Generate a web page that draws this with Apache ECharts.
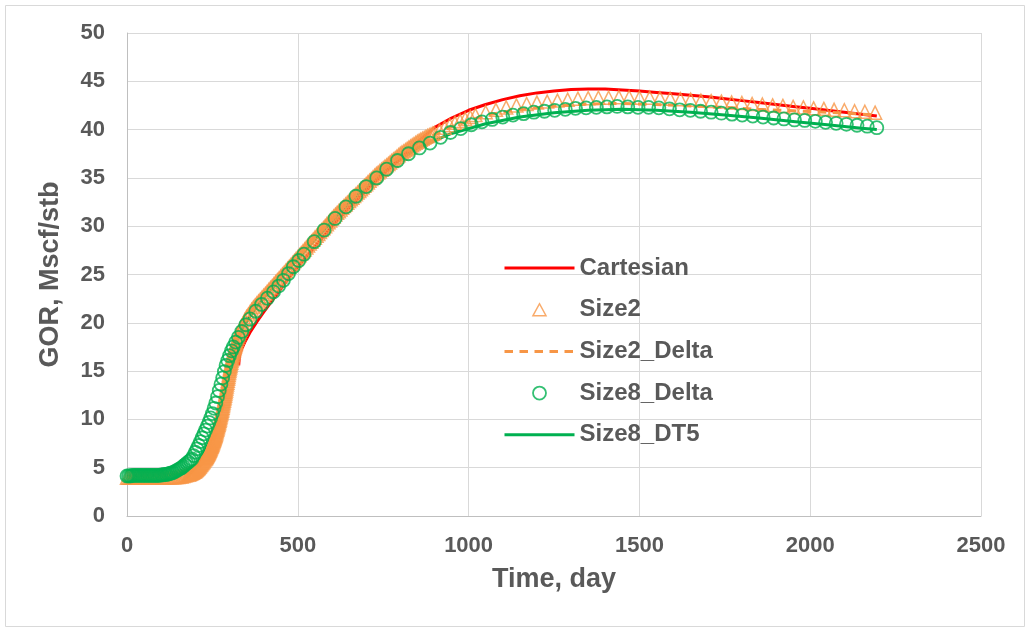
<!DOCTYPE html>
<html>
<head>
<meta charset="utf-8">
<script src="https://cdn.jsdelivr.net/npm/echarts@6/dist/echarts.min.js"></script>
<style>html,body{margin:0;padding:0;background:#fff;}#c{width:1031px;height:629px;}</style>
</head>
<body>
<div id="c"></div>
<script>
// ---- Data: [time (day), GOR (Mscf/stb)] ----
const xTicks = [0, 500, 1000, 1500, 2000, 2500];
const yTicks = [0, 5, 10, 15, 20, 25, 30, 35, 40, 45, 50];

const cartesianPoints = [[327,15.6],[329,16.5],[332,17.0],[337,17.4],[345,18.0],[360,19.0],[380,20.1],[400,21.1],[425,22.3],[450,23.5],[475,24.7],[500,25.8],[550,27.9],[600,30.0],[650,31.9],[700,33.7],[750,35.4],[800,37.0],[850,38.7],[900,40.2],[950,41.2],[1000,42.0],[1050,42.6],[1100,43.1],[1150,43.5],[1200,43.8],[1250,44.0],[1300,44.15],[1350,44.2],[1400,44.2],[1450,44.1],[1500,44.0],[1550,43.85],[1600,43.7],[1650,43.55],[1700,43.4],[1750,43.2],[1800,43.0],[1850,42.8],[1900,42.6],[1950,42.4],[2000,42.2],[2050,42.0],[2100,41.8],[2150,41.6],[2195,41.4]];

const size2Points = [
[0,3.95],[5,3.95],[10,3.95],[15,3.95],[20,3.95],[25,3.95],[30,4.0],[35,4.0],[40,4.0],[45,4.0],[50,4.0],[55,4.0],[60,4.0],[65,4.0],[70,4.0],[75,4.0],[80,4.0],[85,4.0],[90,4.0],[95,4.0],[100,4.0],[105,4.0],[110,4.0],[115,4.0],[120,4.0],[125,4.0],[130,4.0],[135,4.0],[140,4.0],[145,4.05],[150,4.05],[155,4.1],[160,4.1],[165,4.15],[170,4.2],[175,4.25],[180,4.3],
[182,4.33],[184,4.36],[186,4.39],[188,4.42],[190,4.45],[192,4.49],[194,4.53],[196,4.57],[198,4.61],[200,4.65],[202,4.72],[204,4.79],[206,4.86],[208,4.93],[210,5.0],[212,5.09],[214,5.18],[216,5.27],[218,5.36],[220,5.45],[222,5.55],[224,5.65],[226,5.75],[228,5.85],
[230,5.95],[231,6.01],[232,6.08],[233,6.14],[234,6.21],[235,6.27],[236,6.34],[237,6.40],[238,6.47],[239,6.53],[240,6.60],[241,6.68],[242,6.76],[243,6.84],[244,6.92],[245,7.00],[246,7.08],[247,7.16],[248,7.24],[249,7.32],[250,7.40],[251,7.50],[252,7.60],[253,7.70],[254,7.80],[255,7.90],[256,8.00],[257,8.10],[258,8.20],[259,8.30],[260,8.40],[261,8.53],[262,8.66],[263,8.79],[264,8.92],[265,9.05],[266,9.18],[267,9.31],[268,9.44],[269,9.57],[270,9.70],[271,9.85],[272,10.00],[273,10.15],[274,10.30],[275,10.45],[276,10.60],[277,10.75],[278,10.90],[279,11.05],[280,11.20],[281,11.38],[282,11.56],[283,11.74],[284,11.92],[285,12.10],[286,12.28],[287,12.46],[288,12.64],[289,12.82],[290,13.00],[291,13.20],[292,13.40],[293,13.60],[294,13.80],[295,14.00],[296,14.20],[297,14.40],[298,14.60],[299,14.80],[300,15.00],[301,15.18],[302,15.36],[303,15.53],[304,15.70],[305,15.87],[306,16.04],[307,16.21],[308,16.38],[309,16.54],[310,16.70],[311,16.84],[312,16.98],[313,17.12],[314,17.25],[315,17.38],[316,17.51],[317,17.64],[318,17.76],[319,17.88],[320,18.00],
[322,18.23],[324,18.46],[326,18.68],[328,18.89],[330,19.1],[332,19.28],[334,19.45],[336,19.61],[338,19.76],[340,19.9],
[345,20.3],[350,20.6],[355,20.85],[360,21.1],[365,21.35],[370,21.6],[375,21.8],[380,22.0],[385,22.2],[390,22.4],[395,22.6],[400,22.8],[405,23.0],[410,23.2],[415,23.4],[420,23.6],[425,23.8],[430,24.0],[435,24.2],[440,24.4],[445,24.6],[450,24.8],[455,25.0],[460,25.2],[465,25.4],[470,25.6],[475,25.8],[480,26.0],[485,26.2],[490,26.4],[495,26.6],[500,26.8],[505,27.0],[510,27.2],[515,27.4],[520,27.6],[525,27.8],[530,28.0],[535,28.2],[540,28.4],[545,28.6],[550,28.8],[555,29.0],[560,29.2],[565,29.4],[570,29.6],[575,29.8],[580,30.0],[585,30.2],[590,30.4],[595,30.6],[600,30.8],
[605,31.0],[610,31.2],[615,31.38],[620,31.55],[625,31.73],[630,31.9],[635,32.08],[640,32.25],[645,32.43],[650,32.6],[655,32.78],[660,32.95],[665,33.13],[670,33.3],[675,33.48],[680,33.65],[685,33.83],[690,34.0],[695,34.18],[700,34.35],[705,34.53],[710,34.7],[715,34.88],[720,35.05],[725,35.23],[730,35.4],[735,35.55],[740,35.7],[745,35.85],[750,36.0],[755,36.15],[760,36.3],[765,36.45],[770,36.6],[775,36.75],[780,36.9],[785,37.05],[790,37.2],[795,37.35],[800,37.5],[805,37.63],[810,37.75],[815,37.88],[820,38.0],[825,38.13],[830,38.25],[835,38.38],[840,38.5],[845,38.63],[850,38.75],[855,38.85],[860,38.95],[865,39.05],[870,39.15],[875,39.25],[880,39.35],[885,39.43],[890,39.5],[895,39.58],[900,39.65],
[915,39.9],[930,40.2],[945,40.45],[960,40.7],[975,40.9],[990,41.1],[1005,41.3],[1020,41.5],
[1050,41.8],[1080,42.05],[1110,42.3],[1140,42.5],[1170,42.65],[1200,42.8],[1230,42.9],[1260,43.0],[1290,43.1],[1320,43.2],[1350,43.25],[1380,43.3],[1410,43.3],[1440,43.35],[1470,43.35],[1500,43.3],[1530,43.3],[1560,43.25],[1590,43.2],[1620,43.15],[1650,43.1],[1680,43.0],[1710,42.95],[1740,42.9],[1770,42.8],[1800,42.75],[1830,42.65],[1860,42.6],[1890,42.5],[1920,42.45],[1950,42.35],[1980,42.3],[2010,42.2],[2040,42.15],[2070,42.05],[2100,42.0],[2130,41.9],[2160,41.85],[2190,41.75]];

const size2DeltaPoints = [[0,3.95],[100,4.0],[150,4.05],[180,4.3],[200,4.65],[220,5.45],[240,6.6],[260,8.4],[280,11.2],[300,15.0],[320,18.0],[340,19.9],[380,22.0],[450,24.8],[550,28.8],[650,32.6],[750,35.9],[850,38.6],[950,40.3],[1050,41.5],[1150,42.1],[1250,42.45],[1350,42.65],[1450,42.7],[1550,42.6],[1650,42.45],[1750,42.3],[1850,42.1],[1950,41.95],[2050,41.8],[2150,41.6],[2195,41.5]];

const size8DeltaPoints = [
[0,4.15],[5,4.15],[10,4.15],[15,4.2],[20,4.2],[25,4.2],[30,4.2],[35,4.2],[40,4.2],[45,4.2],[50,4.2],[55,4.2],[60,4.2],[65,4.2],[70,4.2],[75,4.2],[80,4.2],[85,4.2],[90,4.2],[95,4.2],[100,4.25],[105,4.25],[110,4.3],[115,4.3],[120,4.35],[125,4.4],[130,4.45],[135,4.5],[140,4.6],[145,4.7],[150,4.8],[155,4.9],[160,5.0],[165,5.15],[170,5.3],[175,5.45],[180,5.6],[185,5.75],[190,5.9],[195,6.25],[200,6.6],[205,6.95],[210,7.3],[215,7.7],[220,8.1],[225,8.5],[230,8.9],[235,9.3],[240,9.7],[245,10.15],[250,10.6],[255,11.15],[260,11.7],[265,12.35],[270,13.0],[275,13.65],[280,14.3],[285,14.95],[290,15.6],[295,16.1],[300,16.6],
[306,17.1],[311,17.5],[318,18.0],[326,18.5],[336,19.1],[348,19.8],[360,20.4],[377,21.2],[394,21.9],[411,22.55],[429,23.2],[444,23.8],[458,24.4],[473,25.1],[487,25.8],[503,26.45],[518,27.1],
[548,28.4],[577,29.6],[609,30.8],[641,32.0],[670,33.1],[700,34.1],[731,35.0],[760,35.9],[792,36.8],[824,37.5],[856,38.1],[887,38.6],[918,39.2],[947,39.7],[977,40.1],
[1008,40.5],[1039,40.8],[1069,41.05],[1100,41.3],[1130,41.5],[1161,41.65],[1191,41.8],[1222,41.9],[1252,42.0],[1283,42.1],[1313,42.2],[1344,42.25],[1374,42.3],[1405,42.35],[1435,42.4],[1466,42.35],[1496,42.3],[1527,42.3],[1557,42.25],[1588,42.15],[1618,42.05],[1649,42.0],[1679,41.9],[1710,41.8],[1740,41.7],[1771,41.6],[1801,41.5],[1832,41.4],[1862,41.3],[1893,41.2],[1923,41.1],[1954,41.0],[1984,40.95],[2015,40.85],[2045,40.75],[2076,40.65],[2106,40.55],[2137,40.45],[2167,40.35],[2195,40.2]];

const size8DT5Points = [[0,4.1],[140,4.3],[180,4.6],[200,5.2],[220,6.2],[240,7.6],[260,9.6],[280,12.4],[300,15.6],[320,18.0],[340,19.6],[380,21.7],[450,24.6],[550,28.6],[650,32.4],[750,35.7],[850,38.1],[950,39.6],[1050,40.6],[1150,41.3],[1250,41.75],[1350,42.0],[1450,42.1],[1550,42.0],[1650,41.8],[1750,41.5],[1850,41.2],[1950,40.85],[2050,40.5],[2150,40.15],[2195,40.0]];

// ---- build ----
const RED = '#FF0000', ORANGE = '#F79646', GREEN = '#00B050', TXT = '#595959';
const FONT = '"Liberation Sans", Arial, sans-serif';
const DASH = [8.5, 6.5];

const chart = echarts.init(document.getElementById('c'), null, {renderer: 'canvas'});
chart.setOption({
  animation: false,
  backgroundColor: '#ffffff',
  textStyle: {fontFamily: FONT},
  graphic: [{
    type: 'rect', z: -10, silent: true,
    shape: {x: 5.5, y: 5.5, width: 1019, height: 621},
    style: {fill: 'none', stroke: '#D9D9D9', lineWidth: 1}
  }],
  grid: {left: 127, right: 50, top: 33, bottom: 113},
  xAxis: {
    type: 'value', min: xTicks[0], max: xTicks[xTicks.length - 1], interval: xTicks[1] - xTicks[0],
    name: 'Time, day', nameLocation: 'middle', nameGap: 50,
    nameTextStyle: {fontSize: 27, fontWeight: 'bold', color: TXT, fontFamily: FONT},
    axisLine: {show: true, lineStyle: {color: '#BFBFBF', width: 1}},
    axisTick: {show: false},
    axisLabel: {fontSize: 22, fontWeight: 'bold', color: TXT, margin: 19, fontFamily: FONT, formatter: v => String(v)},
    splitLine: {show: true, lineStyle: {color: '#D9D9D9', width: 1}}
  },
  yAxis: {
    type: 'value', min: yTicks[0], max: yTicks[yTicks.length - 1], interval: yTicks[1] - yTicks[0],
    name: 'GOR, Mscf/stb', nameLocation: 'middle', nameGap: 63, nameRotate: 90,
    nameTextStyle: {fontSize: 27, fontWeight: 'bold', color: TXT, fontFamily: FONT},
    axisLine: {show: true, lineStyle: {color: '#BFBFBF', width: 1}},
    axisTick: {show: false},
    axisLabel: {fontSize: 22, fontWeight: 'bold', color: TXT, margin: 22, fontFamily: FONT, formatter: v => String(v)},
    splitLine: {show: true, lineStyle: {color: '#D9D9D9', width: 1}}
  },
  legend: {
    orient: 'vertical', left: 498, top: 251,
    itemWidth: 70, itemHeight: 13, itemGap: 17.7,
    textStyle: {fontSize: 24, fontWeight: 'bold', color: TXT, lineHeight: 24, fontFamily: FONT},
    data: [
      {name: 'Cartesian', itemStyle: {opacity: 0}, lineStyle: {width: 3, color: RED}},
      {name: 'Size2', icon: 'path://M0,0M70,13M28.5,12.5L35,0.5L41.5,12.5Z',
        itemStyle: {color: 'rgba(0,0,0,0)', borderColor: ORANGE, borderWidth: 1.5}},
      {name: 'Size2_Delta', itemStyle: {opacity: 0}, lineStyle: {width: 3, color: ORANGE, type: DASH}},
      {name: 'Size8_Delta', icon: 'circle', itemStyle: {color: 'rgba(0,0,0,0)', borderColor: GREEN, borderWidth: 1.8}},
      {name: 'Size8_DT5', itemStyle: {opacity: 0}, lineStyle: {width: 3, color: GREEN}}
    ]
  },
  series: [
    {
      name: 'Size8_DT5', type: 'line', z: 1, symbol: 'none',
      lineStyle: {color: GREEN, width: 3}, itemStyle: {color: GREEN},
      data: size8DT5Points
    },
    {
      name: 'Cartesian', type: 'line', z: 2, symbol: 'none',
      lineStyle: {color: RED, width: 3}, itemStyle: {color: RED},
      data: cartesianPoints
    },
    {
      name: 'Size2_Delta', type: 'line', z: 3, symbol: 'none',
      lineStyle: {color: ORANGE, width: 3, type: DASH}, itemStyle: {color: ORANGE},
      data: size2DeltaPoints
    },
    {
      name: 'Size2', type: 'scatter', z: 4, symbol: 'triangle', symbolSize: 13,
      itemStyle: {color: 'rgba(0,0,0,0)', borderColor: ORANGE, borderWidth: 1.5},
      data: size2Points
    },
    {
      name: 'Size8_Delta', type: 'scatter', z: 5, symbol: 'circle', symbolSize: 13,
      itemStyle: {color: 'rgba(0,0,0,0)', borderColor: GREEN, borderWidth: 1.8},
      data: size8DeltaPoints
    }
  ]
});
</script>
</body>
</html>
